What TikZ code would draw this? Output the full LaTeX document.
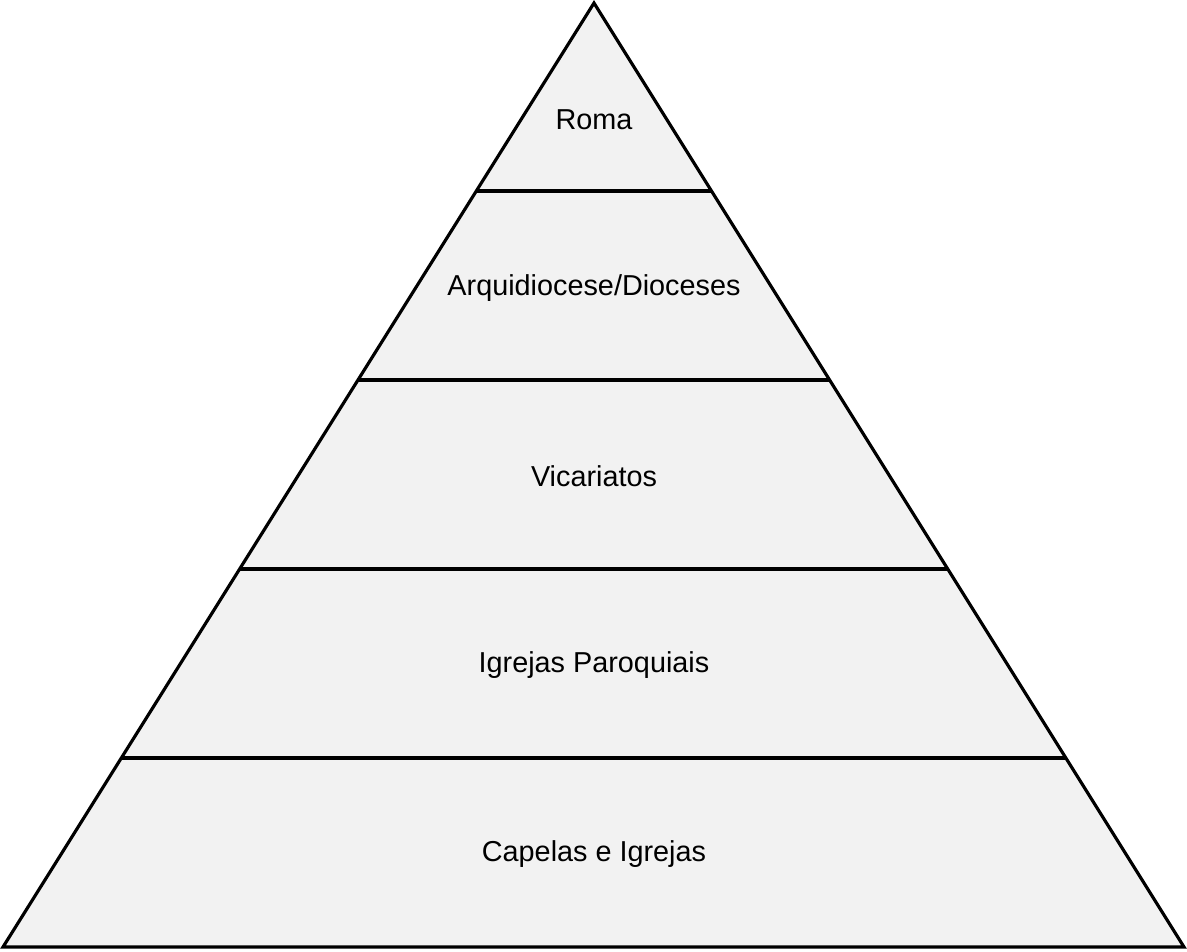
\documentclass[tikz,border=0pt]{standalone}
\usepackage{fontspec}
\setmainfont{Liberation Sans}
\definecolor{layergray}{HTML}{F2F2F2}
\begin{document}
\begin{tikzpicture}[x=0.02cm,y=-0.02cm]
  \tikzstyle{level}=[font=\fontsize{16.4pt}{19pt}\selectfont]
  \useasboundingbox (0,0) rectangle (1187,951);
  \coordinate (top) at (594,3);
  \coordinate (bl) at (3,947);
  \coordinate (br) at (1184,947);
  \draw[line width=1.8pt,line join=miter,fill=layergray] (top) -- (br) -- (bl) -- cycle;
  \foreach \l/\r/\y in {476/711.5/191, 358/829.6/380, 239.6/947.8/569, 121.3/1065.9/758}
    \draw[line width=1.8pt] (\l,\y) -- (\r,\y);
  \node[level] (roma) at (594,120) {Roma};
  \node[level] (arq) at (594,288) {Arquidiocese/Dioceses};
  \node[level] (vic) at (594,476) {Vicariatos};
  \node[level] (par) at (594,665) {Igrejas Paroquiais};
  \node[level] (cap) at (594,854) {Capelas e Igrejas};
\end{tikzpicture}
\end{document}
